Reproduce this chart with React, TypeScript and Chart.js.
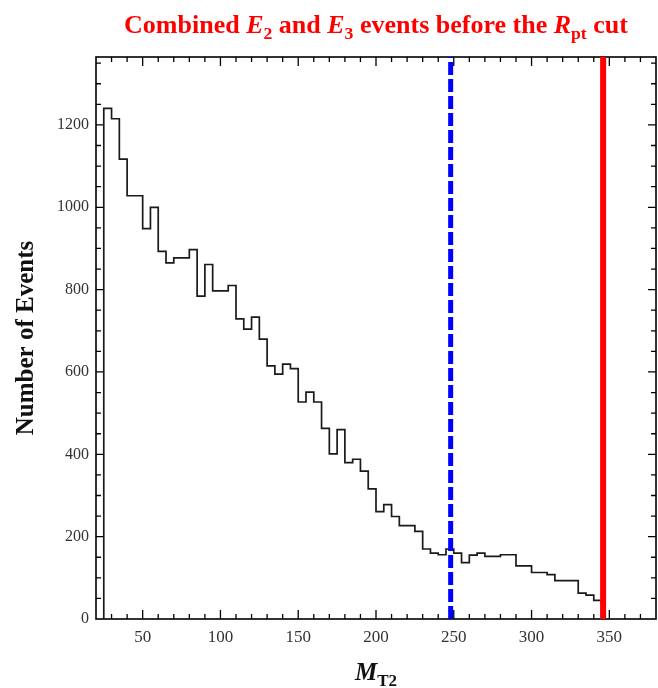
import React, { useEffect, useRef } from 'react';
import { Chart, registerables } from 'chart.js';

Chart.register(...registerables);

// ---- data ----
const BIN_LOW = [
  25, 30, 35, 40, 45, 50, 55, 60, 65, 70, 75, 80, 85, 90, 95, 100,
  105, 110, 115, 120, 125, 130, 135, 140, 145, 150, 155, 160, 165, 170, 175, 180,
  185, 190, 195, 200, 205, 210, 215, 220, 225, 230, 235, 240, 245, 250, 255, 260,
  265, 270, 275, 280, 285, 290, 295, 300, 305, 310, 315, 320, 325, 330, 335, 340,
];
const BIN_WIDTH = 5;
const EVENTS = [
  1240, 1215, 1117, 1028, 1028, 948, 1000, 893, 865, 877, 877, 897, 784, 861, 797, 797,
  810, 729, 704, 733, 680, 615, 595, 619, 608, 527, 551, 527, 463, 401, 460, 380,
  388, 359, 316, 261, 278, 249, 227, 227, 213, 170, 160, 156, 170, 160, 137, 155,
  160, 152, 152, 156, 156, 129, 129, 113, 113, 108, 93, 93, 93, 63, 58, 45,
];
const X_TICKS = [50, 100, 150, 200, 250, 300, 350];
const Y_TICKS = [0, 200, 400, 600, 800, 1000, 1200];
const X_MIN = 20;
const X_MAX = 380;
const Y_MIN = 0;
const Y_MAX = 1365;
const X_MINOR_STEP = 10;
const X_MAJOR_STEP = 50;
const Y_MINOR_STEP = 50;
const Y_MAJOR_STEP = 200;
const CUT_MT2 = 248;
const CUT_RPT = 346;

const TITLE_RUNS = [
  { text: 'Combined ', italic: false, sub: false },
  { text: 'E', italic: true, sub: false },
  { text: '2', italic: false, sub: true },
  { text: ' and ', italic: false, sub: false },
  { text: 'E', italic: true, sub: false },
  { text: '3', italic: false, sub: true },
  { text: ' events before the ', italic: false, sub: false },
  { text: 'R', italic: true, sub: false },
  { text: 'pt', italic: false, sub: true },
  { text: ' cut', italic: false, sub: false },
];
const X_TITLE_RUNS = [
  { text: 'M', italic: true, sub: false },
  { text: 'T2', italic: false, sub: true },
];
const Y_TITLE = 'Number of Events';

const FONT = "'Liberation Serif', 'Times New Roman', serif";

type Run = { text: string; italic: boolean; sub: boolean };

function runFont(r: Run, size: number) {
  const s = r.sub ? size * 0.68 : size;
  return `${r.italic ? 'italic ' : ''}bold ${s}px ${FONT}`;
}

function drawRuns(ctx: CanvasRenderingContext2D, runs: Run[], cx: number, baseline: number, size: number, color: string) {
  let total = 0;
  for (const r of runs) {
    ctx.font = runFont(r, size);
    total += ctx.measureText(r.text).width;
  }
  let x = cx - total / 2;
  ctx.fillStyle = color;
  ctx.textAlign = 'left';
  ctx.textBaseline = 'alphabetic';
  for (const r of runs) {
    ctx.font = runFont(r, size);
    ctx.fillText(r.text, x, baseline + (r.sub ? size * 0.22 : 0));
    x += ctx.measureText(r.text).width;
  }
}

function buildSteps() {
  const pts: { x: number; y: number }[] = [];
  const n = EVENTS.length;
  pts.push({ x: BIN_LOW[0], y: 0 });
  for (let i = 0; i < n; i++) {
    pts.push({ x: BIN_LOW[i], y: EVENTS[i] });
    pts.push({ x: BIN_LOW[i] + BIN_WIDTH, y: EVENTS[i] });
  }
  pts.push({ x: BIN_LOW[n - 1] + BIN_WIDTH, y: 0 });
  return pts;
}

export default function App() {
  const ref = useRef<HTMLCanvasElement>(null);

  useEffect(() => {
    const canvas = ref.current;
    if (!canvas) return;

    const framePlugin = {
      id: 'framePlugin',
      beforeDatasetsDraw(chart: any) {
        const { ctx, chartArea: a, scales } = chart;
        const xs = scales.x;
        const ys = scales.y;
        ctx.save();
        ctx.strokeStyle = '#000';
        ctx.lineWidth = 1.3;
        ctx.beginPath();
        for (let v = X_MIN + X_MINOR_STEP; v < X_MAX; v += X_MINOR_STEP) {
          const px = xs.getPixelForValue(v);
          const len = v % X_MAJOR_STEP === 0 ? 9 : 5;
          ctx.moveTo(px, a.bottom);
          ctx.lineTo(px, a.bottom - len);
          ctx.moveTo(px, a.top);
          ctx.lineTo(px, a.top + len);
        }
        for (let v = Y_MIN + Y_MINOR_STEP; v < Y_MAX; v += Y_MINOR_STEP) {
          const py = ys.getPixelForValue(v);
          const len = v % Y_MAJOR_STEP === 0 ? 8 : 5;
          ctx.moveTo(a.left, py);
          ctx.lineTo(a.left + len, py);
          ctx.moveTo(a.right, py);
          ctx.lineTo(a.right - len, py);
        }
        ctx.stroke();
        ctx.lineWidth = 1.6;
        ctx.strokeRect(a.left, a.top, a.right - a.left, a.bottom - a.top);
        ctx.restore();
      },
      afterDraw(chart: any) {
        const { ctx, chartArea: a } = chart;
        const cx = (a.left + a.right) / 2;
        ctx.save();
        drawRuns(ctx, TITLE_RUNS, cx, 33, 26, '#ff0000');
        drawRuns(ctx, X_TITLE_RUNS, cx, 680, 25, '#111');
        ctx.translate(27, (a.top + a.bottom) / 2);
        ctx.rotate(-Math.PI / 2);
        ctx.font = `bold 25px ${FONT}`;
        ctx.fillStyle = '#111';
        ctx.textAlign = 'center';
        ctx.textBaseline = 'middle';
        ctx.fillText(Y_TITLE, 0, 0);
        ctx.restore();
      },
    };

    const chart = new Chart(canvas, {
      type: 'line',
      data: {
        datasets: [
          {
            label: 'Rpt cut',
            data: [{ x: CUT_RPT, y: Y_MIN }, { x: CUT_RPT, y: Y_MAX }],
            borderColor: '#ff0000',
            borderWidth: 6,
            pointRadius: 0,
            fill: false,
          },
          {
            label: 'MT2 cut',
            data: [{ x: CUT_MT2, y: Y_MIN }, { x: CUT_MT2, y: Y_MAX }],
            borderColor: '#0000ff',
            borderWidth: 5,
            borderDash: [13, 4],
            pointRadius: 0,
            fill: false,
          },
          {
            label: 'Events',
            data: buildSteps(),
            borderColor: '#1a1a1a',
            borderWidth: 1.7,
            pointRadius: 0,
            tension: 0,
            fill: false,
          },
        ],
      },
      options: {
        animation: false,
        responsive: true,
        maintainAspectRatio: false,
        layout: { padding: { top: 57, right: 2, left: 0, bottom: 0 } },
        plugins: {
          legend: { display: false },
          tooltip: { enabled: false },
          title: { display: false },
        },
        scales: {
          x: {
            type: 'linear',
            min: X_MIN,
            max: X_MAX,
            grid: { display: false, drawTicks: false },
            border: { display: false },
            afterBuildTicks: (s: any) => {
              s.ticks = X_TICKS.map((v) => ({ value: v }));
            },
            afterFit: (s: any) => {
              s.height = 69;
            },
            ticks: {
              font: { family: FONT, size: 17 },
              color: '#333',
              padding: 8,
              maxRotation: 0,
              autoSkip: false,
              callback: (v: any) => String(v),
            },
          },
          y: {
            type: 'linear',
            min: Y_MIN,
            max: Y_MAX,
            grid: { display: false, drawTicks: false },
            border: { display: false },
            afterBuildTicks: (s: any) => {
              s.ticks = Y_TICKS.map((v) => ({ value: v }));
            },
            afterFit: (s: any) => {
              s.width = 96;
            },
            ticks: {
              font: { family: FONT, size: 16 },
              color: '#333',
              padding: 7,
              autoSkip: false,
              callback: (v: any) => String(v),
            },
          },
        },
      },
      plugins: [framePlugin],
    } as any);

    return () => chart.destroy();
  }, []);

  return (
    <div style={{ position: 'fixed', left: 0, top: 0, width: 658, height: 688, background: '#fff' }}>
      <canvas ref={ref} />
    </div>
  );
}
